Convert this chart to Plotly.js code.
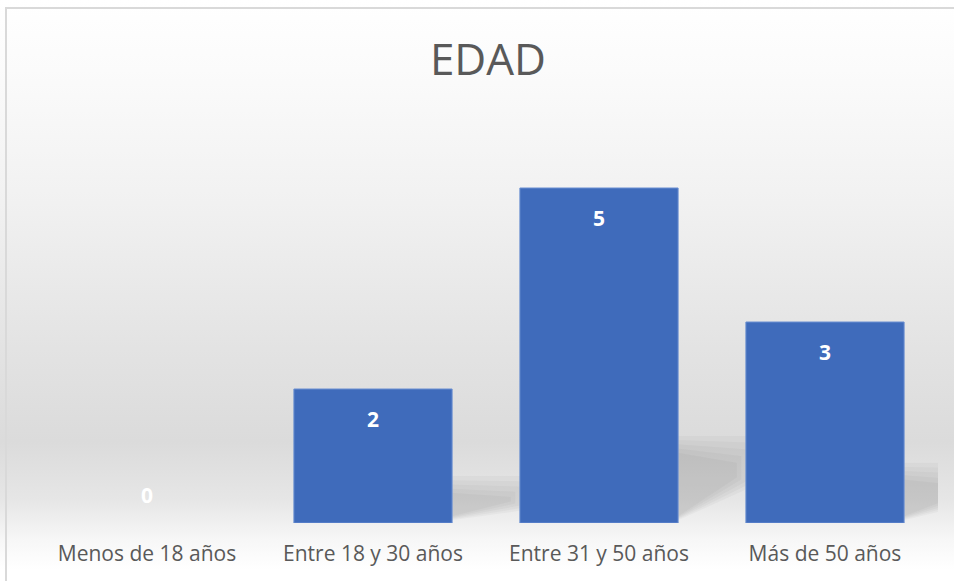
<!DOCTYPE html>
<html>
<head>
<meta charset="utf-8">
<script src="https://cdn.plot.ly/plotly-3.0.1.min.js"></script>
<style>
  html, body { margin: 0; padding: 0; background: #ffffff; overflow: hidden; width: 954px; height: 581px; }
  #chart {
    position: absolute; left: 0; top: 0; width: 954px; height: 581px;
    background: linear-gradient(to bottom, #ffffff 0%, #fbfbfb 12%, #f1f1f1 35%, #e3e3e3 60%, #dbdbdb 76%, #e6e6e6 86%, #f7f7f7 93%, #ffffff 98%);
  }
  #border {
    position: absolute; left: 5px; top: 7px; width: 960px; height: 580px;
    border-left: 2px solid #d9d9d9; border-top: 2px solid #d9d9d9;
    pointer-events: none;
  }
</style>
</head>
<body>
<div id="chart"></div>
<div id="border"></div>
<script>
const categories = ["Menos de 18 años", "Entre 18 y 30 años", "Entre 31 y 50 años", "Más de 50 años"];
const values = [0, 2, 5, 3];
const chartTitle = "EDAD";

const BARGAP = 0.30;
const half = (1 - BARGAP) / 2;

const trace = {
  type: "bar",
  x: categories,
  y: values,
  marker: {
    color: "#3f6bbb",
    line: { color: "#6a8fd2", width: values.map(v => (v > 0 ? 1 : 0)) }
  },
  hoverinfo: "skip"
};

const labelAnnotations = categories.map((c, i) => ({
  x: c, y: values[i], xref: "x", yref: "y",
  text: String(values[i]),
  showarrow: false,
  yanchor: "middle",
  yshift: values[i] > 0 ? -30 : 28,
  font: { family: "Open Sans, sans-serif", size: 21, color: "#ffffff", weight: "bold" }
}));

// soft floor shadows to the right of each bar (decorative, layered for a soft edge)
const shadowShapes = [];
values.forEach((v, i) => {
  if (v <= 0) return;
  const xr = i + half;
  const steps = 5;
  for (let k = 0; k < steps; k++) {
    const t = k / (steps - 1);
    const w = 0.34 - 0.08 * t;
    const top = 0.2 * v + 0.3 - 0.25 * t;
    const br = 0.12 * v - 0.04 + 0.12 * t;
    const bl = 0.04 + 0.06 * t;
    shadowShapes.push({
      type: "path", xref: "x", yref: "y", layer: "below",
      path: `M ${xr} ${bl} L ${xr} ${top} L ${xr + w} ${top - 0.03 * v * t} L ${xr + w} ${br} Z`,
      fillcolor: "rgba(0,0,0,0.028)",
      line: { width: 0 }
    });
  }
});

const layout = {
  width: 954, height: 581,
  margin: { l: 34, r: 16, t: 121, b: 58 },
  paper_bgcolor: "rgba(0,0,0,0)",
  plot_bgcolor: "rgba(0,0,0,0)",
  showlegend: false,
  bargap: BARGAP,
  title: {
    text: chartTitle,
    x: 0.5115, xanchor: "center",
    y: 0.897, yanchor: "middle",
    font: { family: "Open Sans, sans-serif", size: 44, color: "#595959" }
  },
  xaxis: {
    type: "category",
    range: [-0.5, categories.length - 0.5],
    showgrid: false, zeroline: false, showline: false, ticks: "",
    tickfont: { family: "Open Sans, sans-serif", size: 21, color: "#595959" },
    ticklabelstandoff: 16
  },
  yaxis: {
    range: [0, 6],
    visible: false,
    showgrid: false, zeroline: false
  },
  shapes: shadowShapes,
  annotations: labelAnnotations
};

Plotly.newPlot("chart", [trace], layout, { displayModeBar: false, staticPlot: true });
</script>
</body>
</html>
